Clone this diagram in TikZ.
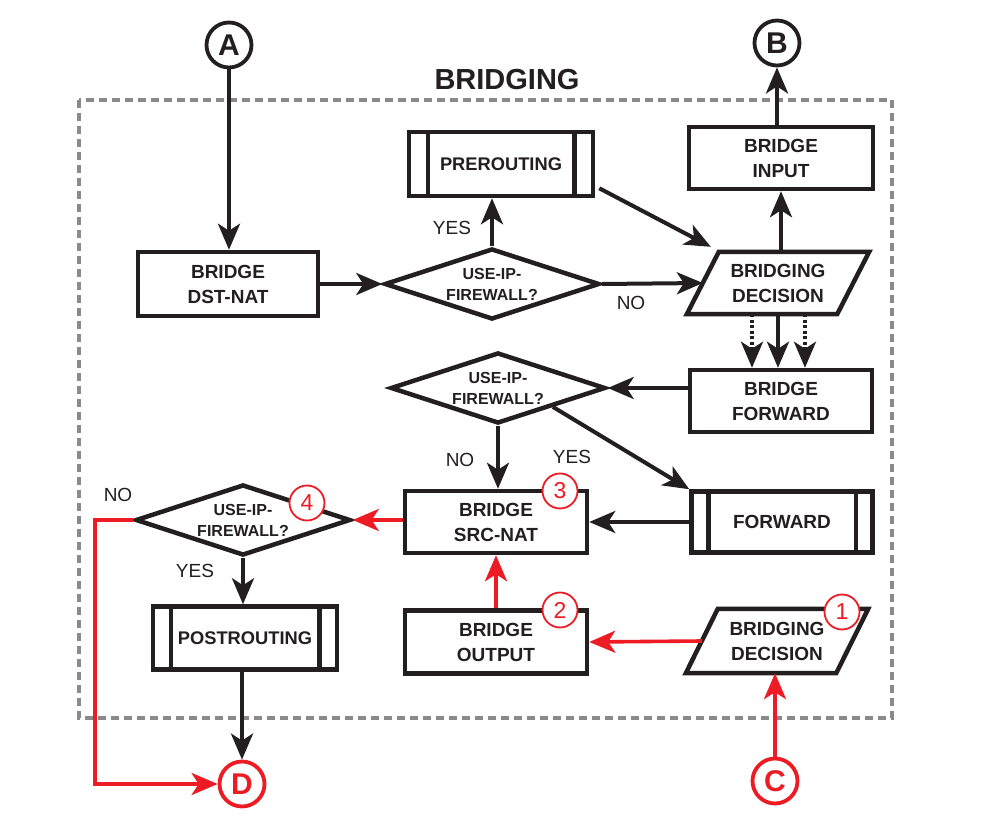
\documentclass[tikz,border=0pt]{standalone}
\usepackage{fontspec}
\setmainfont{Liberation Sans}
\usetikzlibrary{arrows.meta,shapes.geometric,calc}
\definecolor{ink}{HTML}{231F20}
\definecolor{rd}{HTML}{ED1C24}
\definecolor{framegray}{HTML}{8A8A8A}
\begin{document}
\begin{tikzpicture}[x=1pt,y=-1pt,
 box/.style={draw=ink,line width=4.5pt,rectangle,minimum width=182pt,minimum height=62pt,inner sep=0pt,align=center,text=ink,font=\bfseries\fontsize{19}{25}\selectfont},
 procbox/.style={box,minimum width=184pt,font=\bfseries\fontsize{18.3}{22}\selectfont},
 dia/.style={draw=ink,line width=4.5pt,diamond,aspect=3,minimum width=215pt,minimum height=71pt,inner sep=0pt,align=center,text=ink,font=\bfseries\fontsize{16}{21}\selectfont},
 para/.style={rectangle,minimum width=150pt,minimum height=62pt,inner sep=0pt,align=center,text=ink,font=\bfseries\fontsize{19}{25}\selectfont},
 paraline/.style={draw=ink,line width=4.5pt,line join=miter},
 barline/.style={draw=ink,line width=4.5pt},
 lbl/.style={text=ink,font=\fontsize{19}{22}\selectfont,inner sep=0pt},
 conn/.style={circle,draw=ink,line width=3.8pt,minimum size=45pt,inner sep=0pt,fill=white,text=ink,font=\bfseries\fontsize{30}{30}\selectfont},
 rconn/.style={conn,draw=rd,text=rd},
 num/.style={circle,draw=rd,line width=1.8pt,minimum size=35pt,inner sep=0pt,fill=white,text=rd,font=\fontsize{23}{23}\selectfont},
 arr/.style={draw=ink,line width=4pt,-{Stealth[length=26pt,width=22pt,inset=7pt]}},
 dotarr/.style={arr,dash pattern=on 3pt off 2.5pt},
 rarr/.style={arr,draw=rd,line width=3.6pt},
 frameline/.style={draw=framegray,line width=3.5pt,dash pattern=on 8pt off 5pt}
]
\useasboundingbox (0,0) rectangle (983,824);
\fill[white] (0,0) rectangle (983,824);

% frame and title
\draw[frameline] (79,100) rectangle (892,718);
\node[text=ink,font=\bfseries\fontsize{29}{29}\selectfont,inner sep=0pt] (title) at (507,80) {BRIDGING};

% connectors A..D
\node[conn] (A) at (229,45) {A};
\node[conn] (B) at (777,43) {B};
\node[rconn] (C) at (775,781) {C};
\node[rconn] (D) at (242,784) {D};

% nodes
\node[box,minimum width=180pt,minimum height=64pt] (dst) at (228,284) {BRIDGE\\DST-NAT};
\node[procbox,minimum height=64pt] (pre) at (501,164) {PREROUTING};
\node[box,minimum width=184pt] (inp) at (781,158) {BRIDGE\\INPUT};
\node[dia] (d1) at (492,284) {USE-IP-\\FIREWALL?};
\node[para] (dec1) at (778,283) {BRIDGING\\DECISION};
\node[box] (fwdb) at (781,401) {BRIDGE\\FORWARD};
\node[dia] (d2) at (498,388) {USE-IP-\\FIREWALL?};
\node[box] (src) at (496,522) {BRIDGE\\SRC-NAT};
\node[box,minimum width=181pt,minimum height=61pt] (fwd) at (782,522) {FORWARD};
\node[dia] (d3) at (243,520) {USE-IP-\\FIREWALL?};
\node[box,minimum height=63pt] (out) at (496,642) {BRIDGE\\OUTPUT};
\node[para,minimum height=64pt] (dec2) at (777,641) {BRIDGING\\DECISION};
\node[procbox,minimum height=63pt] (post) at (245,638) {POSTROUTING};

% parallelogram outlines
\draw[paraline] ($(dec1.north west)+(16,0)$) -- ($(dec1.north east)+(16,0)$) -- ($(dec1.south east)+(-16,0)$) -- ($(dec1.south west)+(-16,0)$) -- cycle;
\draw[paraline] ($(dec2.north west)+(16,0)$) -- ($(dec2.north east)+(16,0)$) -- ($(dec2.south east)+(-16,0)$) -- ($(dec2.south west)+(-16,0)$) -- cycle;

% side bars of predefined process boxes
\draw[barline] ([xshift=21pt]pre.north west) -- ([xshift=21pt]pre.south west);
\draw[barline] ([xshift=-21pt]pre.north east) -- ([xshift=-21pt]pre.south east);
\draw[barline] ([xshift=19pt]fwd.north west) -- ([xshift=19pt]fwd.south west);
\draw[barline] ([xshift=-19pt]fwd.north east) -- ([xshift=-19pt]fwd.south east);
\draw[barline] ([xshift=20pt]post.north west) -- ([xshift=20pt]post.south west);
\draw[barline] ([xshift=-20pt]post.north east) -- ([xshift=-20pt]post.south east);

% black connectors
\draw[arr] (A.south) -- (A.south |- dst.north);
\draw[arr] (dst.east) -- (d1.west);
\draw[arr] (d1.north) -- (d1.north |- pre.south);
\draw[arr] (d1.east) -- (dec1.west);
\coordinate (preout) at ($(pre.south east)+(4,-10)$);
\coordinate (decin) at ($(dec1.north west)+(8,-5)$);
\draw[arr] (preout) -- (decin);
\draw[arr] (inp.south |- dec1.north) -- (inp.south);
\draw[arr] (inp.north -| B.south) -- (B.south);
\draw[dotarr] ([xshift=-26pt]dec1.south) -- ([xshift=-26pt]dec1.south |- fwdb.north);
\draw[arr] (dec1.south) -- (dec1.south |- fwdb.north);
\draw[dotarr] ([xshift=27pt]dec1.south) -- ([xshift=27pt]dec1.south |- fwdb.north);
\draw[arr] (d2.east -| fwdb.west) -- (d2.east);
\draw[arr] (d2.south) -- (d2.south |- src.north);
\draw[arr] (d2.south east) -- (fwd.north west);
\draw[arr] (fwd.west) -- (src.east);
\draw[arr] (d3.south) -- (d3.south |- post.north);
\draw[arr] (post.south -| D.north) -- (D.north);

% red connectors
\draw[rarr] (src.west |- d3.east) -- (d3.east);
\draw[rarr] (out.north) -- (src.south);
\draw[rarr] (dec2.west) -- (out.east);
\draw[rarr] (C.north) -- (C.north |- dec2.south);
\coordinate (nocorner) at (95,520);
\draw[rarr] (d3.west) -- (nocorner) |- (D.west);

% labels
\node[lbl] (yes1) at (452,228) {YES};
\node[lbl] (no1) at (631,303) {NO};
\node[lbl] (no2) at (460,460) {NO};
\node[lbl] (yes2) at (572,457) {YES};
\node[lbl] (no3) at (118,495) {NO};
\node[lbl] (yes3) at (195,571) {YES};

% circled numbers
\node[num] (n1) at (842,612) {1};
\node[num] (n2) at (560,610) {2};
\node[num] (n3) at (560,491) {3};
\node[num] (n4) at (307,503) {4};
\end{tikzpicture}
\end{document}
